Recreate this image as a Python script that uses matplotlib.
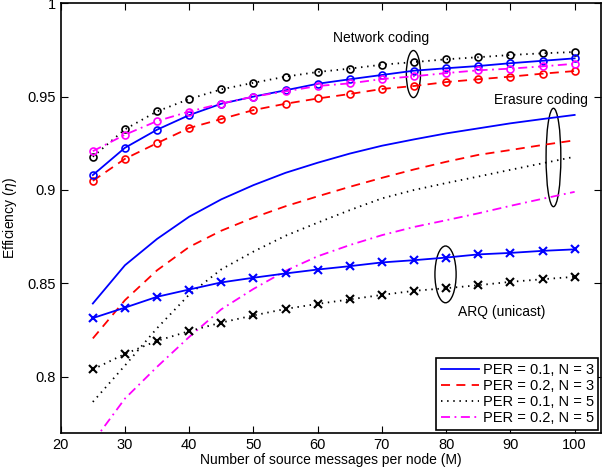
"""Efficiency vs number of source messages: network coding, erasure coding and ARQ"""

import matplotlib.pyplot as plt
from matplotlib.patches import Ellipse
from matplotlib.ticker import FormatStrFormatter

plt.rcParams['font.family'] = ['Liberation Sans', 'DejaVu Sans']

M = [25, 30, 35, 40, 45, 50, 55, 60, 65, 70, 75, 80, 85, 90, 95, 100]

# network coding (circle markers)
nc_p1_n3 = [0.908, 0.9226, 0.9323, 0.9401, 0.9462, 0.9500, 0.9534, 0.9569,
            0.9593, 0.9616, 0.9639, 0.9652, 0.9664, 0.9679, 0.9692, 0.9705]
nc_p2_n3 = [0.9049, 0.9167, 0.9251, 0.9332, 0.9380, 0.9428, 0.9462, 0.9490,
            0.9514, 0.9541, 0.9557, 0.9578, 0.9593, 0.9607, 0.9623, 0.9637]
nc_p1_n5 = [0.9178, 0.9325, 0.9421, 0.9487, 0.9539, 0.9574, 0.9607, 0.9632,
            0.9650, 0.9671, 0.9685, 0.9700, 0.9711, 0.9723, 0.9732, 0.9739]
nc_p2_n5 = [0.9208, 0.9296, 0.9369, 0.9420, 0.9463, 0.9500, 0.9528, 0.9557,
            0.9571, 0.9594, 0.9609, 0.9626, 0.9641, 0.9650, 0.9662, 0.9676]

# erasure coding (plain lines)
ec_p1_n3 = [0.8392, 0.8597, 0.8738, 0.8857, 0.8950, 0.9026, 0.9092, 0.9146,
            0.9195, 0.9237, 0.9271, 0.9303, 0.9330, 0.9357, 0.9380, 0.9402]
ec_p2_n3 = [0.8205, 0.8410, 0.8570, 0.8695, 0.8782, 0.8852, 0.8913, 0.8966,
            0.9017, 0.9065, 0.9110, 0.9151, 0.9188, 0.9214, 0.9241, 0.9266]
ec_p1_n5 = [0.7865, 0.8060, 0.8260, 0.8440, 0.8575, 0.8670, 0.8755, 0.8825,
            0.8892, 0.8955, 0.9000, 0.9037, 0.9072, 0.9108, 0.9143, 0.9178]
ec_p2_n5 = [0.7650, 0.7883, 0.8053, 0.8213, 0.8361, 0.8470, 0.8567, 0.8645,
            0.8705, 0.8758, 0.8802, 0.8838, 0.8875, 0.8915, 0.8953, 0.8990]

# ARQ (x markers)
arq_p1_n3 = [0.8314, 0.8370, 0.8428, 0.8467, 0.8505, 0.8530, 0.8553, 0.8574,
             0.8592, 0.8612, 0.8624, 0.8638, 0.8655, 0.8663, 0.8674, 0.8682]
arq_p1_n5 = [0.8039, 0.8122, 0.8192, 0.8244, 0.8290, 0.8328, 0.8363, 0.8390,
             0.8414, 0.8438, 0.8460, 0.8474, 0.8490, 0.8508, 0.8522, 0.8535]

labels = ['PER = 0.1, N = 3', 'PER = 0.2, N = 3', 'PER = 0.1, N = 5', 'PER = 0.2, N = 5']

fig = plt.figure(figsize=(6.03, 4.74), dpi=100)
ax = fig.add_axes([0.1007, 0.0871, 0.8965, 0.906])

lw = 1.3
sty_p1_n3 = dict(color='blue', linestyle='-', linewidth=lw)
sty_p2_n3 = dict(color='red', linestyle=(0, (5, 3.5)), linewidth=lw)
sty_p1_n5 = dict(color='black', linestyle=(0, (0.8, 2.6)), linewidth=lw)
sty_p2_n5 = dict(color='magenta', linestyle=(0, (5, 2.5, 1, 2.5)), linewidth=lw)

circ = dict(marker='o', markersize=5, markerfacecolor='none', markeredgewidth=1.2)
cross = dict(marker='x', markersize=6, markeredgewidth=1.5)

# network coding
ax.plot(M, nc_p1_n5, **sty_p1_n5, **circ)
ax.plot(M, nc_p2_n3, **sty_p2_n3, **circ)
ax.plot(M, nc_p1_n3, **sty_p1_n3, **circ)
ax.plot(M, nc_p2_n5, **sty_p2_n5, **circ)

# erasure coding (these carry the legend)
h1, = ax.plot(M, ec_p1_n3, **sty_p1_n3, label=labels[0])
h2, = ax.plot(M, ec_p2_n3, **sty_p2_n3, label=labels[1])
h3, = ax.plot(M, ec_p1_n5, **sty_p1_n5, label=labels[2])
h4, = ax.plot(M, ec_p2_n5, **sty_p2_n5, label=labels[3])

# ARQ
ax.plot(M, arq_p1_n3, **sty_p1_n3, **cross)
ax.plot(M, arq_p1_n5, **sty_p1_n5, **cross)

# group ellipses and labels
ax.add_patch(Ellipse((74.9, 0.9621), 2.2, 0.0252, fill=False, edgecolor='black', linewidth=1))
ax.add_patch(Ellipse((96.7, 0.9174), 2.3, 0.0527, fill=False, edgecolor='black', linewidth=1))
ax.add_patch(Ellipse((79.9, 0.8548), 3.3, 0.0304, fill=False, edgecolor='black', linewidth=1))
ax.text(69.9, 0.9814, 'Network coding', ha='center', va='center', fontsize=10)
ax.text(94.8, 0.9482, 'Erasure coding', ha='center', va='center', fontsize=10)
ax.text(88.7, 0.8347, 'ARQ (unicast)', ha='center', va='center', fontsize=10)

ax.set_xlim(20, 104.15)
ax.set_ylim(0.77, 1)
ax.set_xticks(range(20, 101, 10))
ax.set_yticks([0.8, 0.85, 0.9, 0.95, 1])
ax.yaxis.set_major_formatter(FormatStrFormatter('%g'))
ax.tick_params(direction='in', top=True, right=True, labelsize=10.5, length=5, width=0.8)
for s in ax.spines.values():
    s.set_linewidth(1.2)

ax.set_xlabel('Number of source messages per node (M)', fontsize=10, labelpad=1)
ax.set_ylabel(r'Efficiency ($\eta$)', fontsize=10, labelpad=6)

leg = ax.legend(handles=[h1, h2, h3, h4], loc='lower right', fontsize=10.5,
                handlelength=2.6, handletextpad=0.3, borderpad=0.3, labelspacing=0.15,
                fancybox=False, edgecolor='black', framealpha=1, borderaxespad=0.2)
leg.get_frame().set_linewidth(1.2)

plt.savefig('out.png', dpi=100)
